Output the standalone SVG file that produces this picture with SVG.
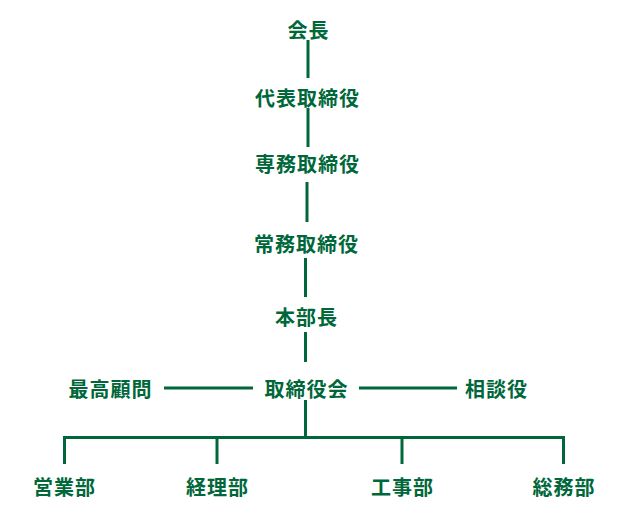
<svg xmlns="http://www.w3.org/2000/svg" width="628" height="513" viewBox="0 0 628 513">
<style>
text{font-family:"Noto Sans CJK JP","Noto Sans CJK SC",sans-serif;font-size:20px;font-weight:bold;fill:#00673a;text-anchor:middle;dominant-baseline:central;letter-spacing:1px}
.c line{stroke:#00673a;stroke-width:3;fill:none}
</style>
<rect width="628" height="513" fill="#ffffff"/>
<g class="c" id="connectors">
<line x1="308" y1="40" x2="308" y2="78"/>
<line x1="308" y1="108" x2="308" y2="147"/>
<line x1="307" y1="182" x2="307" y2="222"/>
<line x1="305.5" y1="258" x2="305.5" y2="297"/>
<line x1="305.5" y1="332" x2="305.5" y2="362"/>
<line x1="305.5" y1="400" x2="305.5" y2="437.5"/>
<line x1="164" y1="388" x2="253" y2="388"/>
<line x1="359" y1="388" x2="457" y2="388"/>
<polyline points="64.5,464 64.5,437.5 563.5,437.5 563.5,464" style="stroke:#00673a;stroke-width:3;fill:none"/>
<line x1="217" y1="437.5" x2="217" y2="464"/>
<line x1="402" y1="437.5" x2="402" y2="464"/>
</g>
<g id="n1"><text x="308.5" y="29.5">会長</text></g>
<g id="n2"><text x="307.5" y="97.5">代表取締役</text></g>
<g id="n3"><text x="307.5" y="163.5">専務取締役</text></g>
<g id="n4"><text x="306.5" y="243">常務取締役</text></g>
<g id="n5"><text x="306.5" y="316">本部長</text></g>
<g id="n6"><text x="306.5" y="388">取締役会</text></g>
<g id="n7"><text x="110.5" y="388">最高顧問</text></g>
<g id="n8"><text x="496.5" y="388">相談役</text></g>
<g id="n9"><text x="64.5" y="486">営業部</text></g>
<g id="n10"><text x="217.5" y="486">経理部</text></g>
<g id="n11"><text x="402.5" y="486">工事部</text></g>
<g id="n12"><text x="564" y="486">総務部</text></g>
</svg>
